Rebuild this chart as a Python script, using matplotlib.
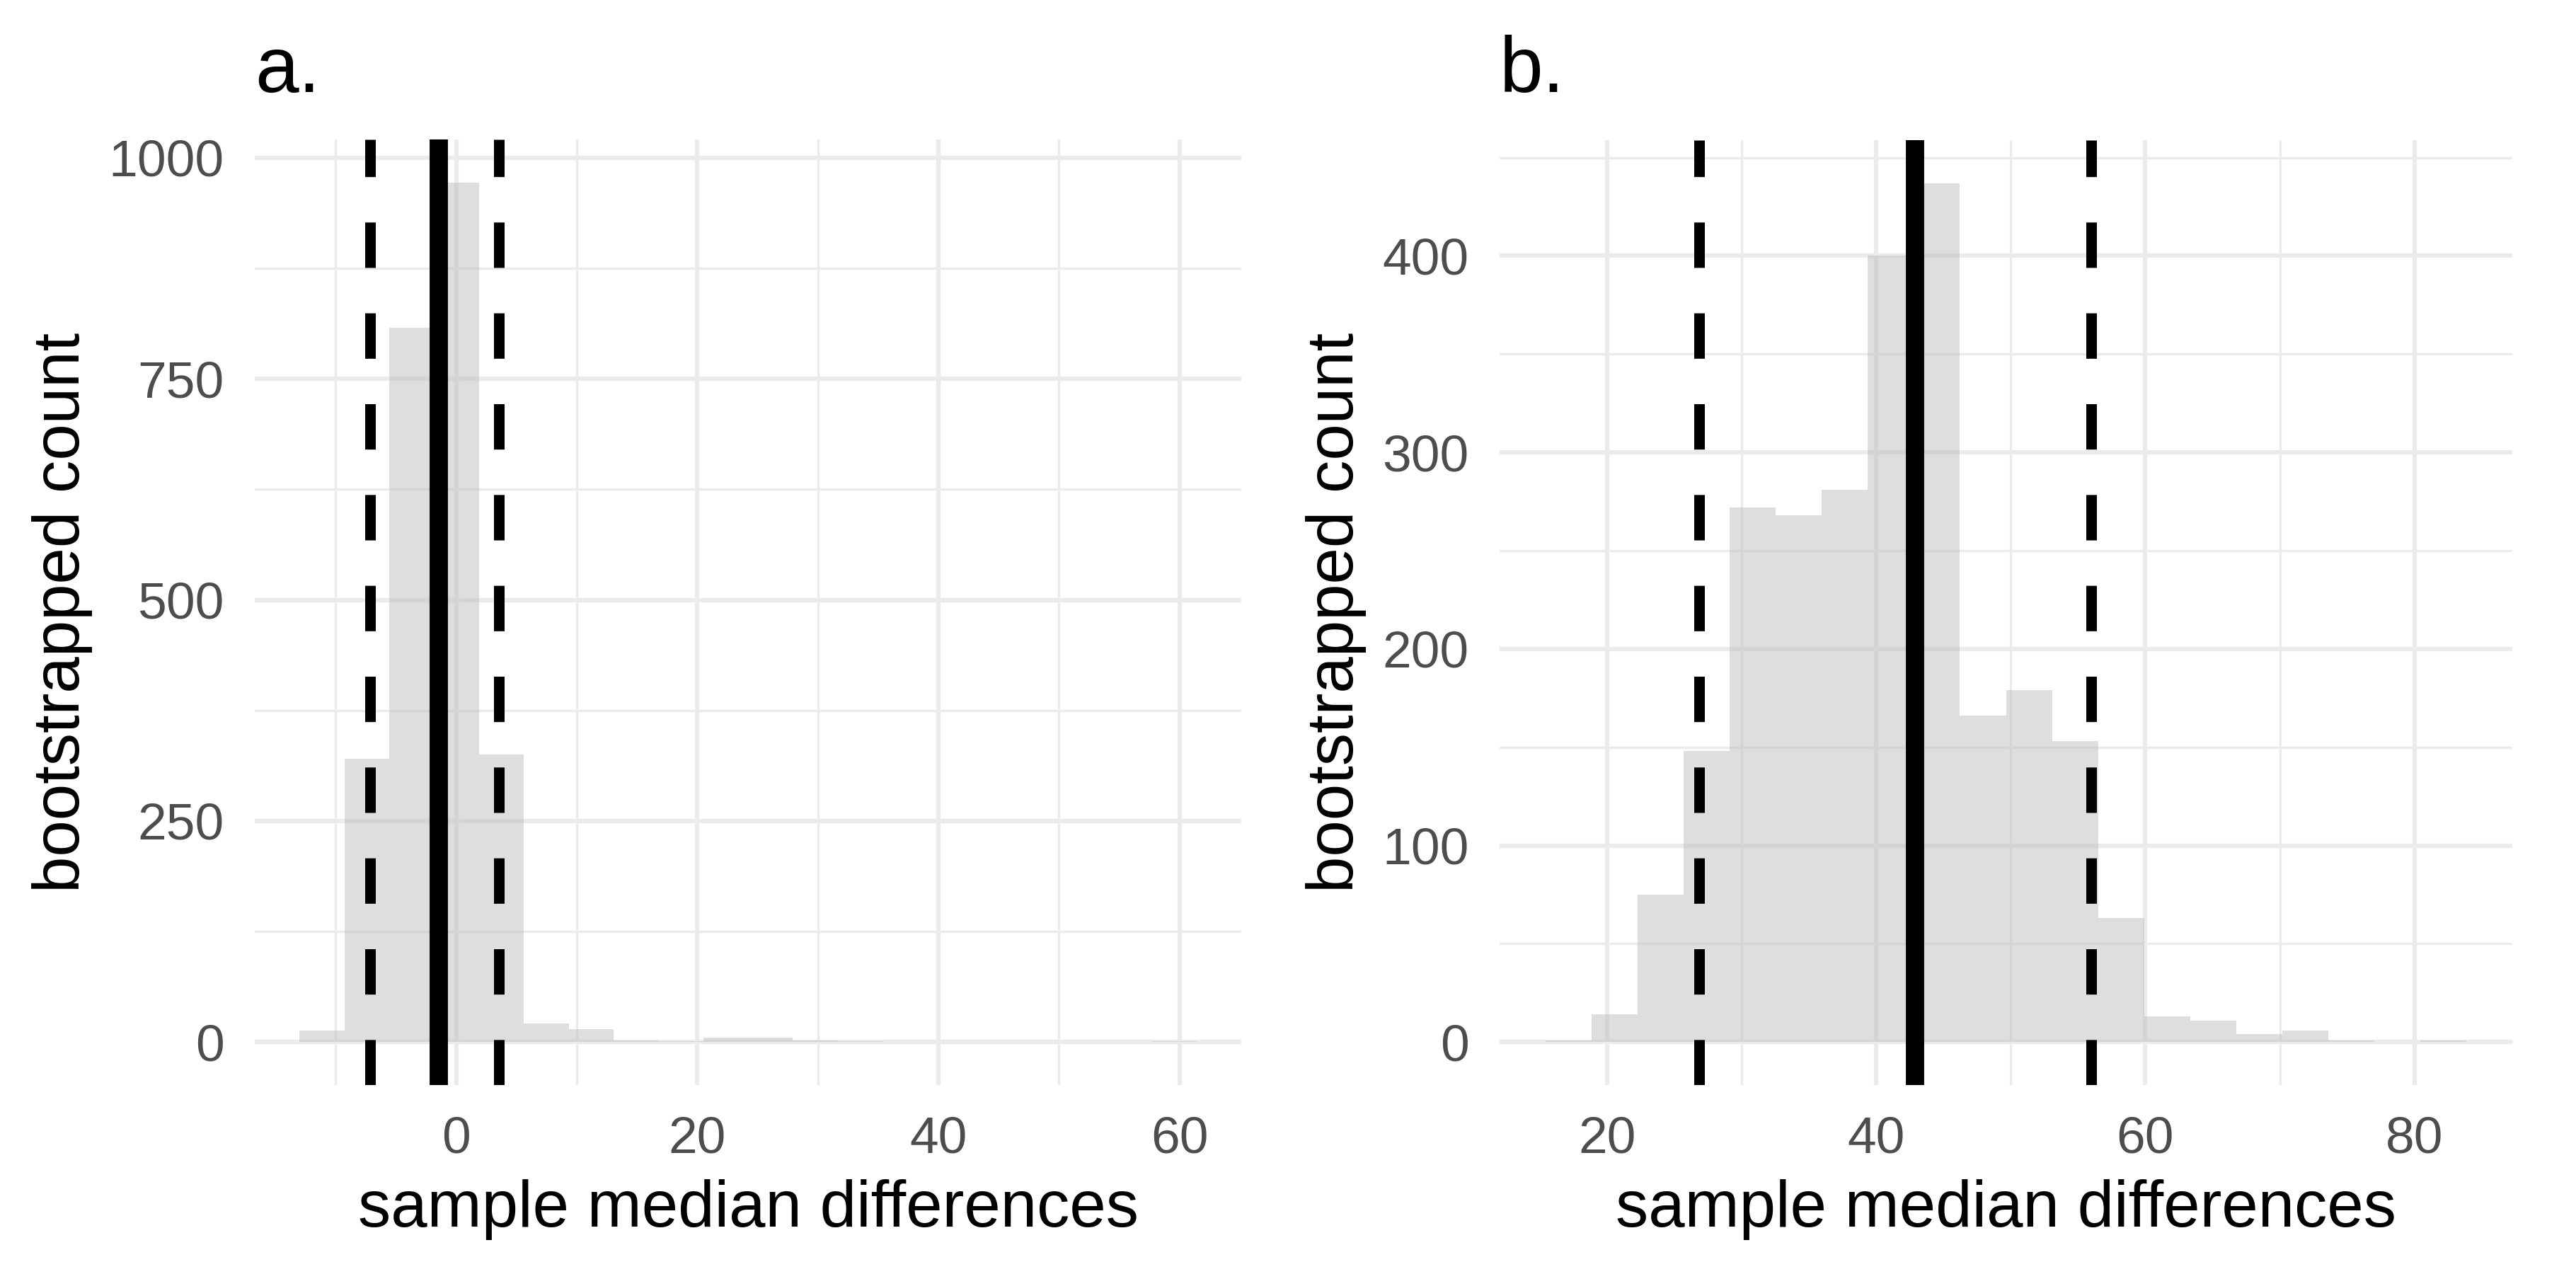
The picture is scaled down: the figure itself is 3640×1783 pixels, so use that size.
import matplotlib
matplotlib.use("Agg")
import matplotlib.pyplot as plt
import numpy as np

# ---------------- data ----------------
a_counts = [13, 320, 808, 972, 325, 21, 15, 2, 1, 5, 5, 2, 1, 0, 0, 0, 0, 0, 0, 1]
a_bin_start = -13.0
a_bin_width = 3.72
a_median = -1.47
a_ci = [-7.16, 3.54]
a_xticks = [0, 20, 40, 60]
a_xminor = [-10, 10, 30, 50]
a_yticks = [0, 250, 500, 750, 1000]
a_yminor = [125, 375, 625, 875]

b_counts = [1, 14, 75, 148, 272, 268, 281, 400, 437, 166, 179, 153, 63, 13, 11, 4, 6, 1, 0, 1]
b_bin_start = 15.45
b_bin_width = 3.42
b_median = 42.9
b_ci = [26.86, 56.0]
b_xticks = [20, 40, 60, 80]
b_xminor = [30, 50, 70]
b_yticks = [0, 100, 200, 300, 400]
b_yminor = [50, 150, 250, 350, 450]

titles = ["a.", "b."]
xlabel = "sample median differences"
ylabel = "bootstrapped count"

# ---------------- style ----------------
plt.rcParams["font.family"] = ["Liberation Sans", "DejaVu Sans"]
plt.rcParams["lines.scale_dashes"] = False

W, H = 3640, 1783
DPI = 300
fig = plt.figure(figsize=(W / DPI, H / DPI), dpi=DPI)
fig.patch.set_facecolor("white")

GRID = "#EBEBEB"
TICKC = "#4D4D4D"


def px_rect(l, t, r, b):
    return [l / W, 1 - b / H, (r - l) / W, (b - t) / H]


def panel(rect, counts, start, width, median, ci, xt, xm, yt, ym, title,
          title_x, ylab_x):
    ax = fig.add_axes(px_rect(*rect))
    counts = np.asarray(counts, dtype=float)
    edges = start + width * np.arange(len(counts) + 1)
    ax.set_axisbelow(True)
    ax.bar(edges[:-1], counts, width=width, align="edge",
           color="#BEBEBE", alpha=0.5, linewidth=0, zorder=2)
    lo, hi = edges[0], edges[-1]
    r = hi - lo
    ax.set_xlim(lo - 0.05 * r, hi + 0.05 * r)
    cmax = counts.max()
    ax.set_ylim(-0.05 * cmax, 1.05 * cmax)

    ax.axvline(median, color="black", lw=6.2, zorder=4, solid_capstyle="butt")
    for c in ci:
        ax.axvline(c, color="black", lw=3.6, zorder=4,
                   dashes=(15.4, 15.4), dash_capstyle="butt")

    ax.set_xticks(xt)
    ax.set_xticks(xm, minor=True)
    ax.set_yticks(yt)
    ax.set_yticks(ym, minor=True)
    ax.set_xticklabels([str(v) for v in xt])
    ax.set_yticklabels([str(v) for v in yt])
    ax.grid(which="major", color=GRID, lw=1.5)
    ax.grid(which="minor", color=GRID, lw=0.8)
    ax.tick_params(which="both", length=0, labelsize=17.6, labelcolor=TICKC,
                   pad=10.4)
    for s in ax.spines.values():
        s.set_visible(False)

    l, t, rr, b = rect
    fig.text(title_x / W, 1 - 130 / H, title, fontsize=26.6, color="black",
             ha="left", va="baseline")
    fig.text(((l + rr) / 2) / W, 1 - 1733 / H, xlabel, fontsize=22.2,
             color="black", ha="center", va="baseline")
    fig.text(ylab_x / W, 1 - ((t + b) / 2) / H, ylabel, fontsize=22.2,
             color="black", ha="center", va="center", rotation=90)
    return ax


panel((360, 197, 1754, 1533), a_counts, a_bin_start, a_bin_width, a_median,
      a_ci, a_xticks, a_xminor, a_yticks, a_yminor, titles[0], 360, 88)
panel((2119, 198, 3550, 1533), b_counts, b_bin_start, b_bin_width, b_median,
      b_ci, b_xticks, b_xminor, b_yticks, b_yminor, titles[1], 2119, 1888)

fig.savefig("out.png", dpi=DPI, facecolor="white")
